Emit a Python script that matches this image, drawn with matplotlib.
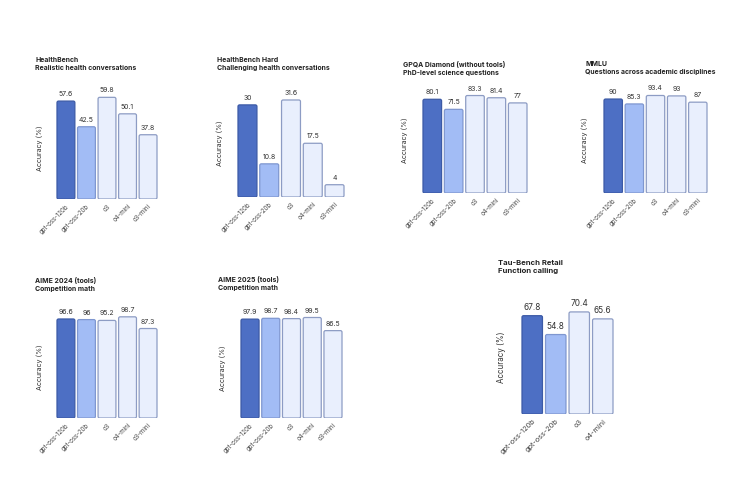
import matplotlib.pyplot as plt
from matplotlib.patches import FancyBboxPatch

plt.rcParams['font.family'] = ['Inter', 'DejaVu Sans']

# data
models5 = ["gpt-oss-120b", "gpt-oss-20b", "o3", "o4-mini", "o3-mini"]
models4 = ["gpt-oss-120b", "gpt-oss-20b", "o3", "o4-mini"]

healthbench = [57.6, 42.5, 59.8, 50.1, 37.8]
healthbench_hard = [30, 10.8, 31.6, 17.5, 4]
gpqa = [80.1, 71.5, 83.3, 81.4, 77]
mmlu = [90, 85.3, 93.4, 93, 87]
aime2024 = [96.6, 96, 95.2, 98.7, 87.3]
aime2025 = [97.9, 98.7, 98.4, 99.5, 86.5]
tau_retail = [67.8, 54.8, 70.4, 65.6]

titles = [
    ("HealthBench", "Realistic health conversations"),
    ("HealthBench Hard", "Challenging health conversations"),
    ("GPQA Diamond (without tools)", "PhD-level science questions"),
    ("MMLU", "Questions across academic disciplines"),
    ("AIME 2024 (tools)", "Competition math"),
    ("AIME 2025 (tools)", "Competition math"),
    ("Tau-Bench Retail", "Function calling"),
]

fill = ["#4d6fc4", "#a2bcf5", "#e9effd", "#e9effd", "#e9effd"]
edge = ["#3c5aa6", "#7f97d0", "#8d9cc4", "#8d9cc4", "#8d9cc4"]

W, H = 750, 500
fig = plt.figure(figsize=(7.5, 5), dpi=100)

# layout per panel (pixels): bars left, bars right, bar bottom, px per unit,
# title x, title y, ylabel x, ylabel y, text scale, title scale
panels = [
    (healthbench, models5, 57, 157, 199, 1.70, 35, 57, 40, 148, 1.0, 1.0),
    (healthbench_hard, models5, 238, 344, 197, 3.07, 217, 57, 220, 143, 1.0, 1.0),
    (gpqa, models5, 423, 527, 193, 1.17, 403, 61, 405, 140, 1.0, 1.0),
    (mmlu, models5, 604, 707, 193, 1.044, 585, 61, 585, 140, 1.0, 1.0),
    (aime2024, models5, 57, 157, 418, 1.025, 35, 277, 40, 367, 1.0, 1.0),
    (aime2025, models5, 241, 342, 418, 1.01, 218, 276, 223, 368, 1.0, 1.0),
    (tau_retail, models4, 522, 613, 414, 1.45, 498, 260, 502, 357, 1.2, 1.12),
]

bw = 0.87
for i, (vals, names, l, r, b, s, tx, ty, yx, yy, fs, ts) in enumerate(panels):
    n = len(vals)
    unit = (r - l) / (n - 1 + bw)
    left = l - (0.5 - bw / 2) * unit
    width = n * unit
    height = 120
    ax = fig.add_axes([left / W, 1 - b / H, width / W, height / H])
    x = list(range(n))
    bars = ax.bar(x, vals, width=bw, color=fill[:n], edgecolor=edge[:n], linewidth=0.9)
    # round the bar corners
    for p in bars.patches:
        rb = FancyBboxPatch((p.get_x(), p.get_y()), p.get_width(), p.get_height(),
                            boxstyle="round,pad=0,rounding_size=%f" % (1.6 / unit),
                            mutation_aspect=unit / s,
                            facecolor=p.get_facecolor(), edgecolor=p.get_edgecolor(),
                            linewidth=0.9)
        p.remove()
        ax.add_patch(rb)
    for xi, v in zip(x, vals):
        ax.text(xi, v + 4.0 / s, f"{v:g}", ha='center', va='bottom',
                fontsize=5 * fs, color='#333333')
    ax.set_xlim(-0.5, n - 0.5)
    ax.set_ylim(0, height / s)
    ax.set_xticks(x)
    ax.set_xticklabels(names, rotation=45, ha='right', rotation_mode='anchor',
                       fontsize=4.4 * fs, color='#444444')
    ax.tick_params(axis='x', length=0, pad=3)
    ax.set_yticks([])
    for sp in ax.spines.values():
        sp.set_visible(False)
    ax.patch.set_alpha(0)

    t1, t2 = titles[i]
    fig.text(tx / W, 1 - ty / H, t1 + "\n" + t2, ha='left', va='top',
             fontsize=4.95 * ts, fontweight='bold', color='#222222',
             linespacing=1.4)
    fig.text(yx / W, 1 - yy / H, "Accuracy (%)", rotation=90, ha='center',
             va='center', fontsize=5.1 * ts, color='#333333')

fig.savefig("out.png", dpi=100, facecolor='white')
